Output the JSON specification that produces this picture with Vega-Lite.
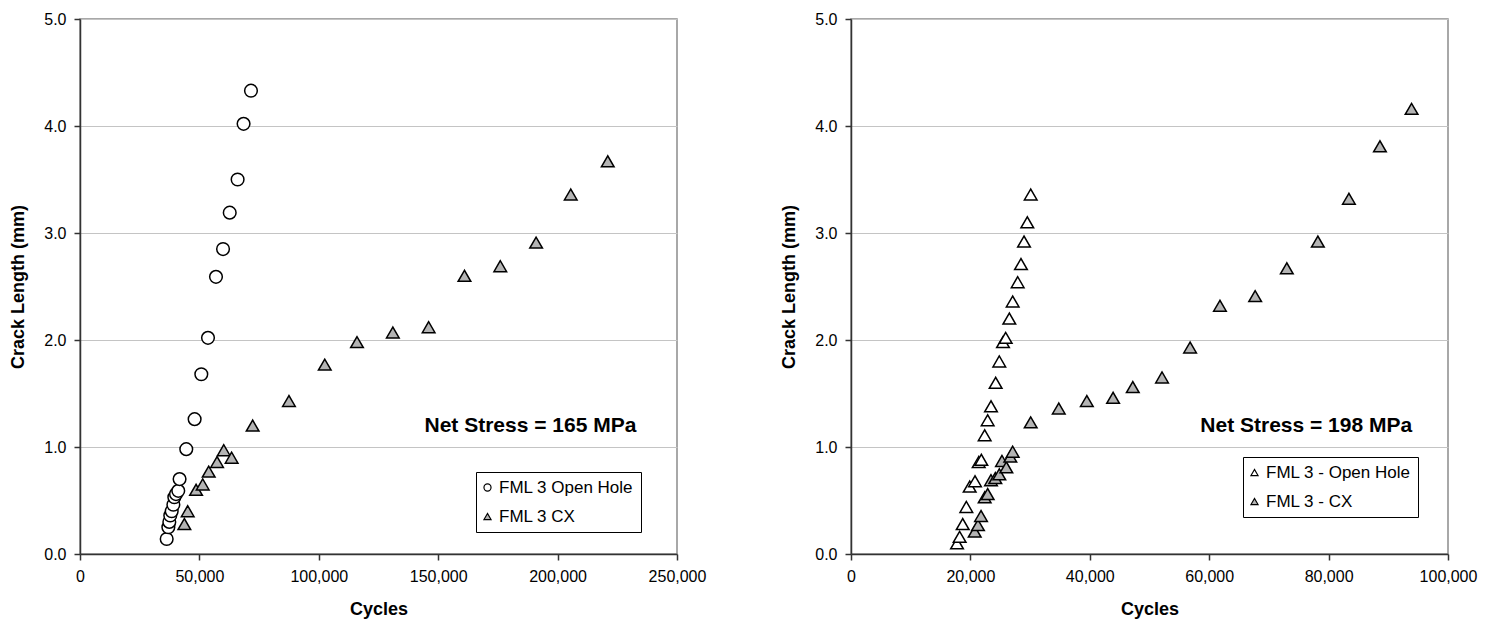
{
  "$schema": "https://vega.github.io/schema/vega-lite/v6.json",
  "background": "white",
  "padding": {"left": 9, "top": 10, "right": 5, "bottom": 5},
  "datasets": {
    "left": [
      {"series": "FML 3 Open Hole", "cycles": 36300, "crack": 0.14},
      {"series": "FML 3 Open Hole", "cycles": 37000, "crack": 0.25},
      {"series": "FML 3 Open Hole", "cycles": 37400, "crack": 0.30},
      {"series": "FML 3 Open Hole", "cycles": 37800, "crack": 0.36},
      {"series": "FML 3 Open Hole", "cycles": 38400, "crack": 0.40},
      {"series": "FML 3 Open Hole", "cycles": 39100, "crack": 0.46},
      {"series": "FML 3 Open Hole", "cycles": 39500, "crack": 0.53},
      {"series": "FML 3 Open Hole", "cycles": 40200, "crack": 0.56},
      {"series": "FML 3 Open Hole", "cycles": 41150, "crack": 0.59},
      {"series": "FML 3 Open Hole", "cycles": 41700, "crack": 0.70},
      {"series": "FML 3 Open Hole", "cycles": 44500, "crack": 0.98},
      {"series": "FML 3 Open Hole", "cycles": 48000, "crack": 1.26},
      {"series": "FML 3 Open Hole", "cycles": 50800, "crack": 1.68},
      {"series": "FML 3 Open Hole", "cycles": 53600, "crack": 2.02},
      {"series": "FML 3 Open Hole", "cycles": 56950, "crack": 2.59},
      {"series": "FML 3 Open Hole", "cycles": 59900, "crack": 2.85},
      {"series": "FML 3 Open Hole", "cycles": 62700, "crack": 3.19},
      {"series": "FML 3 Open Hole", "cycles": 66000, "crack": 3.50},
      {"series": "FML 3 Open Hole", "cycles": 68500, "crack": 4.02},
      {"series": "FML 3 Open Hole", "cycles": 71600, "crack": 4.33},
      {"series": "FML 3 CX", "cycles": 43700, "crack": 0.28},
      {"series": "FML 3 CX", "cycles": 45100, "crack": 0.40},
      {"series": "FML 3 CX", "cycles": 48600, "crack": 0.60},
      {"series": "FML 3 CX", "cycles": 51400, "crack": 0.65},
      {"series": "FML 3 CX", "cycles": 53900, "crack": 0.77},
      {"series": "FML 3 CX", "cycles": 57400, "crack": 0.86},
      {"series": "FML 3 CX", "cycles": 60200, "crack": 0.97},
      {"series": "FML 3 CX", "cycles": 63500, "crack": 0.90},
      {"series": "FML 3 CX", "cycles": 72300, "crack": 1.20},
      {"series": "FML 3 CX", "cycles": 87500, "crack": 1.43},
      {"series": "FML 3 CX", "cycles": 102500, "crack": 1.77},
      {"series": "FML 3 CX", "cycles": 116000, "crack": 1.98},
      {"series": "FML 3 CX", "cycles": 131000, "crack": 2.07},
      {"series": "FML 3 CX", "cycles": 146000, "crack": 2.12},
      {"series": "FML 3 CX", "cycles": 161000, "crack": 2.60},
      {"series": "FML 3 CX", "cycles": 176000, "crack": 2.69},
      {"series": "FML 3 CX", "cycles": 191000, "crack": 2.91},
      {"series": "FML 3 CX", "cycles": 205500, "crack": 3.36},
      {"series": "FML 3 CX", "cycles": 221000, "crack": 3.67}
    ],
    "right": [
      {"series": "FML 3 - Open Hole", "cycles": 17760, "crack": 0.10},
      {"series": "FML 3 - Open Hole", "cycles": 18200, "crack": 0.16},
      {"series": "FML 3 - Open Hole", "cycles": 18710, "crack": 0.28},
      {"series": "FML 3 - Open Hole", "cycles": 19320, "crack": 0.44},
      {"series": "FML 3 - Open Hole", "cycles": 19880, "crack": 0.63},
      {"series": "FML 3 - Open Hole", "cycles": 20770, "crack": 0.68},
      {"series": "FML 3 - Open Hole", "cycles": 21390, "crack": 0.86},
      {"series": "FML 3 - Open Hole", "cycles": 21830, "crack": 0.88},
      {"series": "FML 3 - Open Hole", "cycles": 22390, "crack": 1.11},
      {"series": "FML 3 - Open Hole", "cycles": 22890, "crack": 1.25},
      {"series": "FML 3 - Open Hole", "cycles": 23450, "crack": 1.38},
      {"series": "FML 3 - Open Hole", "cycles": 24230, "crack": 1.60},
      {"series": "FML 3 - Open Hole", "cycles": 24840, "crack": 1.80},
      {"series": "FML 3 - Open Hole", "cycles": 25460, "crack": 1.98},
      {"series": "FML 3 - Open Hole", "cycles": 25910, "crack": 2.02},
      {"series": "FML 3 - Open Hole", "cycles": 26520, "crack": 2.20},
      {"series": "FML 3 - Open Hole", "cycles": 27080, "crack": 2.36},
      {"series": "FML 3 - Open Hole", "cycles": 27920, "crack": 2.54},
      {"series": "FML 3 - Open Hole", "cycles": 28470, "crack": 2.71},
      {"series": "FML 3 - Open Hole", "cycles": 28980, "crack": 2.92},
      {"series": "FML 3 - Open Hole", "cycles": 29530, "crack": 3.10},
      {"series": "FML 3 - Open Hole", "cycles": 30100, "crack": 3.36},
      {"series": "FML 3 - CX", "cycles": 20720, "crack": 0.21},
      {"series": "FML 3 - CX", "cycles": 21270, "crack": 0.27},
      {"series": "FML 3 - CX", "cycles": 21780, "crack": 0.355},
      {"series": "FML 3 - CX", "cycles": 22390, "crack": 0.53},
      {"series": "FML 3 - CX", "cycles": 22890, "crack": 0.56},
      {"series": "FML 3 - CX", "cycles": 23450, "crack": 0.69},
      {"series": "FML 3 - CX", "cycles": 24170, "crack": 0.71},
      {"series": "FML 3 - CX", "cycles": 24840, "crack": 0.745},
      {"series": "FML 3 - CX", "cycles": 25290, "crack": 0.87},
      {"series": "FML 3 - CX", "cycles": 26020, "crack": 0.81},
      {"series": "FML 3 - CX", "cycles": 26690, "crack": 0.91},
      {"series": "FML 3 - CX", "cycles": 27080, "crack": 0.956},
      {"series": "FML 3 - CX", "cycles": 30100, "crack": 1.23},
      {"series": "FML 3 - CX", "cycles": 34800, "crack": 1.36},
      {"series": "FML 3 - CX", "cycles": 39500, "crack": 1.43},
      {"series": "FML 3 - CX", "cycles": 43900, "crack": 1.46},
      {"series": "FML 3 - CX", "cycles": 47200, "crack": 1.56},
      {"series": "FML 3 - CX", "cycles": 52100, "crack": 1.65},
      {"series": "FML 3 - CX", "cycles": 56800, "crack": 1.93},
      {"series": "FML 3 - CX", "cycles": 61800, "crack": 2.32},
      {"series": "FML 3 - CX", "cycles": 67700, "crack": 2.41},
      {"series": "FML 3 - CX", "cycles": 73000, "crack": 2.67},
      {"series": "FML 3 - CX", "cycles": 78200, "crack": 2.92},
      {"series": "FML 3 - CX", "cycles": 83400, "crack": 3.32},
      {"series": "FML 3 - CX", "cycles": 88600, "crack": 3.81},
      {"series": "FML 3 - CX", "cycles": 93900, "crack": 4.16}
    ]
  },
  "spacing": 73,
  "hconcat": [
    {
      "width": 597,
      "height": 535,
      "layer": [
        {
          "data": {"name": "left"},
          "mark": {"type": "point", "filled": true, "strokeWidth": 1.5, "size": 160, "opacity": 1},
          "encoding": {
            "x": {"field": "cycles", "type": "quantitative", "scale": {"domain": [0, 250000], "nice": false},
                  "axis": {"title": "Cycles", "values": [0, 50000, 100000, 150000, 200000, 250000], "format": ",d"}},
            "y": {"field": "crack", "type": "quantitative", "scale": {"domain": [0, 5], "nice": false},
                  "axis": {"title": "Crack Length (mm)", "values": [0, 1, 2, 3, 4, 5], "format": ".1f"}},
            "fill": {"field": "series", "type": "nominal",
                     "scale": {"domain": ["FML 3 Open Hole", "FML 3 CX"], "range": ["white", "#b4b4b4"]},
                     "legend": {"title": null, "orient": "none", "legendX": 396, "legendY": 453}},
            "stroke": {"field": "series", "type": "nominal",
                       "scale": {"domain": ["FML 3 Open Hole", "FML 3 CX"], "range": ["black", "black"]},
                       "legend": {"title": null, "orient": "none", "legendX": 396, "legendY": 453}},
            "shape": {"field": "series", "type": "nominal",
                      "scale": {"domain": ["FML 3 Open Hole", "FML 3 CX"], "range": ["circle", "triangle-up"]},
                      "legend": {"title": null, "orient": "none", "legendX": 396, "legendY": 453}}
          }
        },
        {
          "data": {"values": [{}]},
          "mark": {"type": "text", "align": "right", "baseline": "middle", "fontSize": 21, "fontWeight": "bold", "font": "Liberation Sans", "color": "black"},
          "encoding": {
            "x": {"datum": 233000, "type": "quantitative"},
            "y": {"datum": 1.2, "type": "quantitative"},
            "text": {"value": "Net Stress = 165 MPa"}
          }
        }
      ]
    },
    {
      "width": 597,
      "height": 535,
      "layer": [
        {
          "data": {"name": "right"},
          "mark": {"type": "point", "filled": true, "strokeWidth": 1.5, "size": 160, "opacity": 1},
          "encoding": {
            "x": {"field": "cycles", "type": "quantitative", "scale": {"domain": [0, 100000], "nice": false},
                  "axis": {"title": "Cycles", "values": [0, 20000, 40000, 60000, 80000, 100000], "format": ",d"}},
            "y": {"field": "crack", "type": "quantitative", "scale": {"domain": [0, 5], "nice": false},
                  "axis": {"title": "Crack Length (mm)", "values": [0, 1, 2, 3, 4, 5], "format": ".1f"}},
            "fill": {"field": "series", "type": "nominal",
                     "scale": {"domain": ["FML 3 - Open Hole", "FML 3 - CX"], "range": ["white", "#b4b4b4"]},
                     "legend": {"title": null, "orient": "none", "legendX": 392, "legendY": 438}},
            "stroke": {"field": "series", "type": "nominal",
                       "scale": {"domain": ["FML 3 - Open Hole", "FML 3 - CX"], "range": ["black", "black"]},
                       "legend": {"title": null, "orient": "none", "legendX": 392, "legendY": 438}},
            "shape": {"field": "series", "type": "nominal",
                      "scale": {"domain": ["FML 3 - Open Hole", "FML 3 - CX"], "range": ["triangle-up", "triangle-up"]},
                      "legend": {"title": null, "orient": "none", "legendX": 392, "legendY": 438}}
          }
        },
        {
          "data": {"values": [{}]},
          "mark": {"type": "text", "align": "right", "baseline": "middle", "fontSize": 21, "fontWeight": "bold", "font": "Liberation Sans", "color": "black"},
          "encoding": {
            "x": {"datum": 94000, "type": "quantitative"},
            "y": {"datum": 1.2, "type": "quantitative"},
            "text": {"value": "Net Stress = 198 MPa"}
          }
        }
      ]
    }
  ],
  "resolve": {
    "scale": {"x": "independent", "y": "independent", "fill": "independent", "stroke": "independent", "shape": "independent"},
    "legend": {"fill": "independent", "stroke": "independent", "shape": "independent"}
  },
  "config": {
    "font": "Liberation Sans",
    "view": {"stroke": "#8c8c8c", "strokeWidth": 1.5},
    "axis": {
      "labelFont": "Liberation Sans", "labelFontSize": 16, "labelColor": "black",
      "titleFont": "Liberation Sans", "titleFontSize": 18, "titleFontWeight": "bold", "titleColor": "black",
      "domainColor": "#333333", "domainWidth": 1.5, "tickColor": "#333333", "tickSize": 6, "tickWidth": 1.5,
      "labelPadding": 8, "gridColor": "#c4c4c4", "gridWidth": 1, "labelFlush": false
    },
    "axisX": {"grid": false, "titlePadding": 16},
    "axisY": {"grid": true, "titlePadding": 16},
    "legend": {
      "strokeColor": "black", "strokeWidth": 1, "fillColor": "white", "cornerRadius": 0, "padding": 7,
      "labelFont": "Liberation Sans", "labelFontSize": 17, "labelColor": "black", "labelOffset": 3,
      "symbolOffset": -4, "symbolSize": 50, "symbolStrokeWidth": 1.2, "rowPadding": 11
    }
  }
}
